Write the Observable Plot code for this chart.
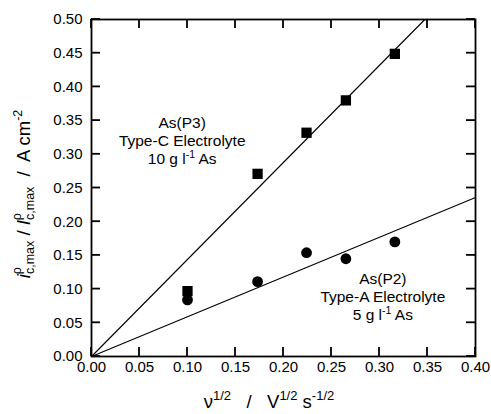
<!DOCTYPE html>
<html>
<head>
<meta charset="utf-8">
<script src="https://cdn.jsdelivr.net/npm/d3@7"></script>
<script src="https://cdn.jsdelivr.net/npm/@observablehq/plot@0.6"></script>
<style>
  html, body { margin: 0; padding: 0; background: #fff; }
  #chart svg { display: block; }
</style>
</head>
<body>
<div id="chart"></div>
<script>
// Square root of scan rate (V^1/2 s^-1/2)
const rateSqrt = [0.1, 0.173, 0.224, 0.265, 0.316];
// Normalised peak current density, As(P3) in Type-C electrolyte
const peakP3 = [0.097, 0.271, 0.332, 0.380, 0.449];
// Normalised peak current density, As(P2) in Type-A electrolyte
const peakP2 = [0.084, 0.111, 0.154, 0.145, 0.170];
// Slopes of the straight-line fits through the origin (P3, P2)
const fitSlopes = [1.44, 0.59];
// Axis ticks
const xTicks = [0, 0.05, 0.10, 0.15, 0.20, 0.25, 0.30, 0.35, 0.40];
const yTicks = [0, 0.05, 0.10, 0.15, 0.20, 0.25, 0.30, 0.35, 0.40, 0.45, 0.50];

const xMax = 0.4, yMax = 0.5;
const ptsP3 = rateSqrt.map((x, i) => ({x, y: peakP3[i]}));
const ptsP2 = rateSqrt.map((x, i) => ({x, y: peakP2[i]}));
// Fit lines run from the origin to the edge of the plotting area
const fitLines = fitSlopes.flatMap((k, i) => {
  const xe = Math.min(xMax, yMax / k);
  return [{x: 0, y: 0, g: i}, {x: xe, y: k * xe, g: i}];
});

const fmt = d => d.toFixed(2);
const FONT = "'Liberation Sans', Arial, Helvetica, sans-serif";

const W = 491, H = 414, mL = 91, mR = 16, mT = 19, mB = 58;
const TICK = 9; // inward tick length, px

const chart = Plot.plot({
  width: W,
  height: H,
  marginLeft: mL,
  marginRight: mR,
  marginTop: mT,
  marginBottom: mB,
  style: {fontFamily: FONT, fontSize: "15px", background: "#fff", color: "#000"},
  x: {domain: [0, xMax]},
  y: {domain: [0, yMax]},
  marks: [
    // tick labels; the ticks themselves point inward (drawn below)
    Plot.axisX(xTicks, {anchor: "bottom", tickSize: 0, tickPadding: 5, tickFormat: fmt, label: null, fontSize: 15}),
    Plot.axisY(yTicks, {anchor: "left", tickSize: 0, tickPadding: 9, tickFormat: fmt, label: null, fontSize: 15}),
    Plot.line(fitLines, {x: "x", y: "y", z: "g", stroke: "#000", strokeWidth: 1.1}),
    Plot.dot(ptsP3, {x: "x", y: "y", symbol: "square", r: 5.8, fill: "#000", stroke: "none"}),
    Plot.dot(ptsP2, {x: "x", y: "y", symbol: "circle", r: 5.4, fill: "#000", stroke: "none"}),
    Plot.frame({stroke: "#000", strokeWidth: 1.8})
  ]
});
document.getElementById("chart").append(chart);

const svg = d3.select(chart);
const sx = chart.scale("x"), sy = chart.scale("y");

// Inward ticks on all four sides, positioned with the plot's scales
const ticks = svg.append("g").attr("stroke", "#000").attr("stroke-width", 1.8).attr("fill", "none");
const X0 = sx.apply(0), X1 = sx.apply(xMax), Y0 = sy.apply(0), Y1 = sy.apply(yMax);
for (const v of xTicks) {
  const px = sx.apply(v);
  ticks.append("path").attr("d", `M${px},${Y0}V${Y0 - TICK}`);
  ticks.append("path").attr("d", `M${px},${Y1}V${Y1 + TICK}`);
}
for (const v of yTicks) {
  const py = sy.apply(v);
  ticks.append("path").attr("d", `M${X0},${py}H${X0 + TICK}`);
  ticks.append("path").attr("d", `M${X1},${py}H${X1 - TICK}`);
}

// Rich-text labels (superscripts / subscripts)
const g = svg.append("g").attr("font-family", FONT).attr("fill", "#000");

function rich(sel, parts) {
  for (const p of parts) {
    const t = sel.append("tspan").text(p.t);
    if (p.size) t.attr("font-size", p.size);
    if (p.dy) t.attr("dy", p.dy);
    if (p.dx) t.attr("dx", p.dx);
    if (p.italic) t.attr("font-style", "italic");
  }
  return sel;
}

// Annotations, placed in data coordinates (middle of the first line)
const notes = [
  {x: 0.095, y: 0.347, lines: [
    [{t: "As(P3)"}],
    [{t: "Type-C Electrolyte"}],
    [{t: "10 g l"}, {t: "-1", size: 10.5, dy: -6}, {t: " As", dy: 6}]
  ]},
  {x: 0.304, y: 0.115, lines: [
    [{t: "As(P2)"}],
    [{t: "Type-A Electrolyte"}],
    [{t: "5 g l"}, {t: "-1", size: 10.5, dy: -6}, {t: " As", dy: 6}]
  ]}
];
for (const n of notes) {
  n.lines.forEach((ln, i) => {
    const t = g.append("text")
      .attr("x", sx.apply(n.x))
      .attr("y", sy.apply(n.y) + 5.5 + i * 18)
      .attr("text-anchor", "middle")
      .attr("font-size", 15.5);
    rich(t, ln);
  });
}

// x-axis title
rich(g.append("text")
  .attr("x", 269).attr("y", 408)
  .attr("text-anchor", "middle").attr("font-size", 18.5).attr("xml:space", "preserve"), [
  {t: "ν"}, {t: "1/2", size: 13, dy: -8},
  {t: "   /   V", dy: 8}, {t: "1/2", size: 13, dy: -8},
  {t: " s", dy: 8}, {t: "-1/2", size: 13, dy: -8}
]);

// y-axis title
rich(g.append("text")
  .attr("transform", "translate(30,194) rotate(-90)")
  .attr("text-anchor", "middle").attr("font-size", 18.5).attr("xml:space", "preserve"), [
  {t: "i", italic: true},
  {t: "ρ", size: 12.5, dy: -9},
  {t: "c,max", size: 12.5, dx: -7, dy: 13},
  {t: " / ", dy: -4},
  {t: "I", italic: true},
  {t: "ρ", size: 12.5, dy: -9},
  {t: "c,max", size: 12.5, dx: -7, dy: 13},
  {t: "  /  A cm", dy: -4},
  {t: "-2", size: 12.5, dy: -8}
]);
</script>
</body>
</html>
